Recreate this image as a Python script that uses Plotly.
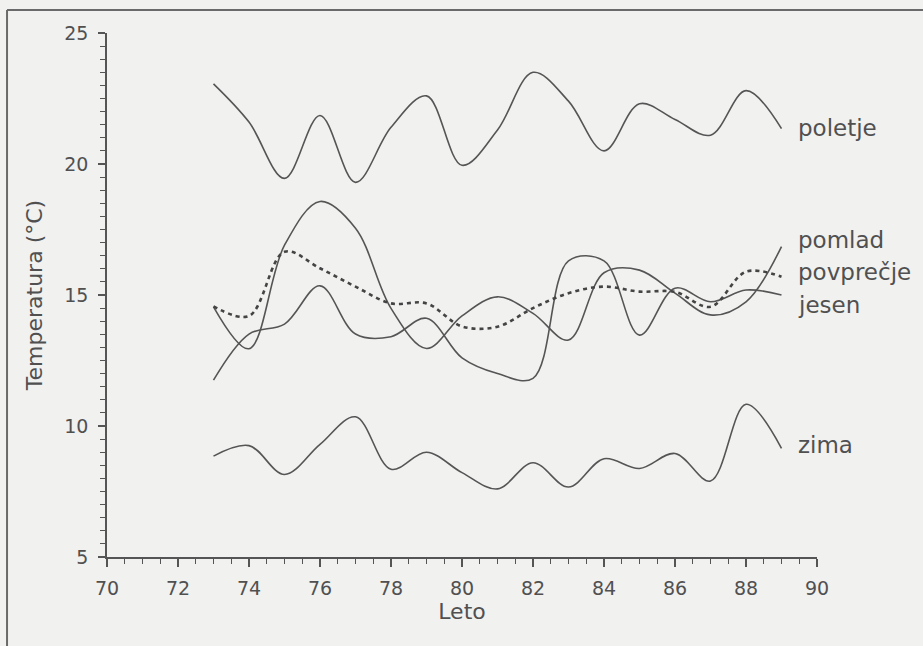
import plotly.graph_objects as go

years = list(range(73, 90))

poletje = [23.06, 21.6, 19.45, 21.85, 19.3, 21.4, 22.6, 19.95, 21.3, 23.5,
           22.4, 20.5, 22.3, 21.7, 21.1, 22.8, 21.35]
pomlad = [14.55, 12.95, 16.9, 18.57, 17.55, 14.49, 12.96, 14.2, 14.93, 14.3,
          13.28, 15.85, 15.95, 15.07, 14.24, 14.74, 16.85]
jesen = [11.75, 13.51, 13.89, 15.35, 13.51, 13.41, 14.11, 12.6, 12.0, 11.82,
         16.3, 16.3, 13.47, 15.26, 14.74, 15.19, 15.0]
povprecje = [14.57, 14.2, 16.65, 16.02, 15.32, 14.68, 14.68, 13.8, 13.79, 14.5,
             15.07, 15.32, 15.13, 15.12, 14.55, 15.89, 15.7]
zima = [8.85, 9.25, 8.15, 9.3, 10.35, 8.35, 9.0, 8.22, 7.6, 8.6,
        7.67, 8.75, 8.38, 8.95, 7.9, 10.83, 9.15]

series_names = ["poletje", "pomlad", "povprečje", "jesen", "zima"]
label_y = [21.38, 17.1, 15.88, 14.62, 9.27]
x_ticks = [70, 72, 74, 76, 78, 80, 82, 84, 86, 88, 90]
y_ticks = [5, 10, 15, 20, 25]

LINE = "#555555"
TEXT = "#505050"
BG = "#f1f1f0"
FONT = "DejaVu Sans"

fig = go.Figure()
for name, vals in [("poletje", poletje), ("pomlad", pomlad), ("jesen", jesen), ("zima", zima)]:
    fig.add_trace(go.Scatter(x=years, y=vals, mode="lines", name=name,
                             line=dict(color=LINE, width=1.6, shape="spline", smoothing=1.0)))
fig.add_trace(go.Scatter(x=years, y=povprecje, mode="lines", name="povprečje",
                         line=dict(color="#444444", width=2.6, shape="spline", smoothing=1.0,
                                   dash="4px,4px")))

for name, ly in zip(series_names, label_y):
    fig.add_annotation(x=89.4, y=ly, xref="x", yref="y", text=name, showarrow=False,
                       xanchor="left", yanchor="middle",
                       font=dict(family=FONT, size=23, color=TEXT))

fig.update_layout(
    width=923, height=646,
    margin=dict(l=107, r=106, t=33, b=89),
    paper_bgcolor=BG, plot_bgcolor=BG,
    showlegend=False,
    font=dict(family=FONT, color=TEXT),
    shapes=[
        dict(type="line", xref="paper", yref="paper", x0=-0.1408, x1=1.2, y0=1.0439, y1=1.0439,
             line=dict(color="#6a6a6a", width=2)),
        dict(type="line", xref="paper", yref="paper", x0=-0.1408, x1=-0.1408, y0=-0.2, y1=1.0439,
             line=dict(color="#6a6a6a", width=2)),
    ],
)
fig.update_xaxes(range=[70, 90], tickvals=x_ticks, showgrid=False, zeroline=False,
                 showline=True, linecolor=LINE, linewidth=1.5,
                 ticks="outside", ticklen=8, tickcolor=LINE, tickwidth=1.5,
                 ticklabelstandoff=5,
                 minor=dict(dtick=0.5, tick0=70, ticks="outside", ticklen=5, tickcolor=LINE, tickwidth=1.2),
                 tickfont=dict(family=FONT, size=19, color=TEXT),
                 title=dict(text="Leto", font=dict(family=FONT, size=22, color=TEXT), standoff=6))
fig.update_yaxes(range=[5, 25], tickvals=y_ticks, showgrid=False, zeroline=False,
                 showline=True, linecolor=LINE, linewidth=1.5,
                 ticks="outside", ticklen=7, tickcolor=LINE, tickwidth=1.5,
                 ticklabelstandoff=6,
                 minor=dict(dtick=0.5, tick0=5, ticks="outside", ticklen=5, tickcolor=LINE, tickwidth=1.2),
                 tickfont=dict(family=FONT, size=19, color=TEXT),
                 title=dict(text="Temperatura (°C)", font=dict(family=FONT, size=22, color=TEXT), standoff=16))

fig.write_html("out.html", config={"displayModeBar": False},
               post_script="document.body.style.margin='0';document.body.style.background='%s';" % BG)
